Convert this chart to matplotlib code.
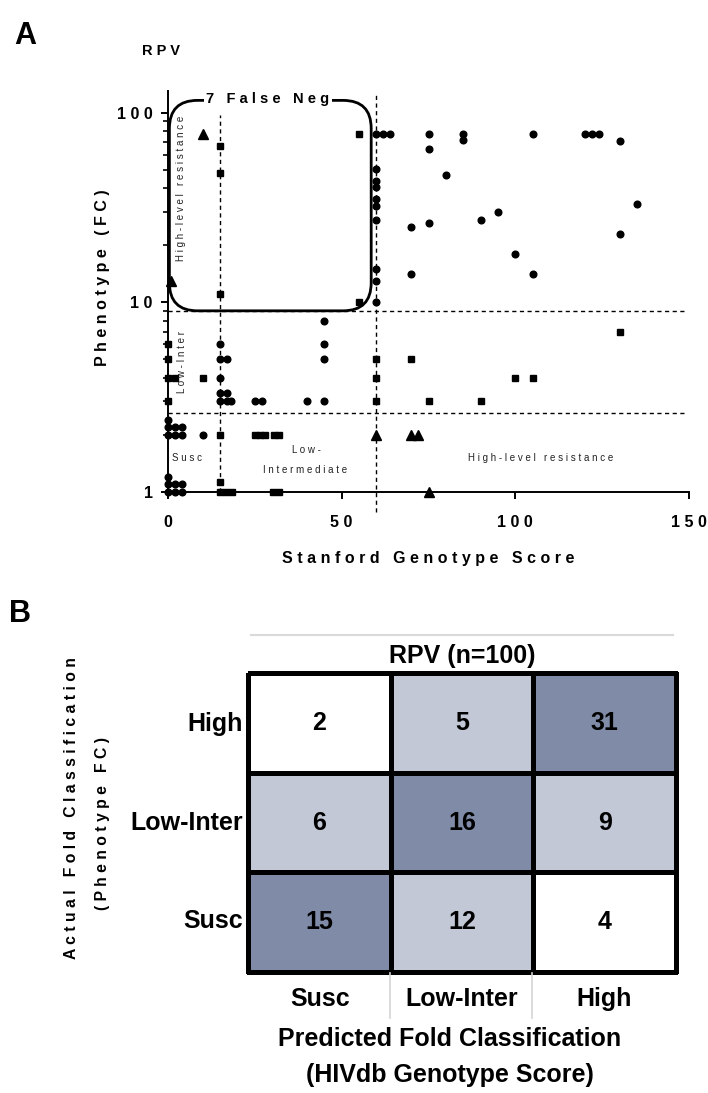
import numpy as np
import matplotlib
matplotlib.use('Agg')
import matplotlib.pyplot as plt
from matplotlib.patches import FancyBboxPatch
from matplotlib.lines import Line2D
from matplotlib.colors import ListedColormap
from matplotlib import font_manager

plt.rcParams['font.family'] = ['Liberation Sans', 'DejaVu Sans']

# ---- panel A data (Stanford score vs phenotype fold change) ----
# circles: genotype and phenotype agree
circle_x = [60, 62, 64, 75, 85, 105, 120, 122, 124,
            85, 130, 75, 80, 135, 95, 90, 70, 75, 130, 100, 70, 105,
            60, 60, 60, 60, 60, 60, 60, 60, 60,
            45, 45, 45, 45, 40, 25, 27, 15, 15, 17, 15, 15, 17, 15, 17, 18,
            0, 0, 2, 4, 0, 2, 4, 10, 0, 0, 2, 4, 0, 2, 4]
circle_y = [77, 77, 77, 77, 77, 77, 77, 77, 77,
            72, 71, 64, 47, 33, 30, 27, 25, 26, 23, 18, 14, 14,
            50.6, 43.5, 40.6, 34.8, 32.1, 27, 15, 13, 10,
            8, 6, 5, 3, 3, 3, 3, 6, 5, 5, 4, 3.3, 3.3, 3, 3, 3,
            2.4, 2.2, 2.2, 2.2, 2, 2, 2, 2, 1.2, 1.1, 1.1, 1.1, 1, 1, 1]
# squares: one category off
square_x = [15, 15, 15, 55, 55,
            60, 60, 60, 70, 100, 105, 75, 90, 130,
            0, 0, 0, 2, 10, 0,
            15, 25, 26.5, 28, 30.5, 32, 15, 15, 16.6, 18.5, 30.3, 32]
square_y = [67, 48, 11, 77, 10,
            5, 4, 3, 5, 4, 4, 3, 3, 7,
            6, 5, 4, 4, 4, 3,
            2, 2, 2, 2, 2, 2, 1.13, 1, 1, 1, 1, 1]
# triangles: two categories off
triangle_x = [10, 1, 60, 70, 72, 75]
triangle_y = [77, 13, 2, 2, 2, 1]

geno_cuts = [15, 60]
pheno_cuts = [2.6, 9]

# ---- panel B data ----
row_labels = ['High', 'Low-Inter', 'Susc']
col_labels = ['Susc', 'Low-Inter', 'High']
counts = [[2, 5, 31],
          [6, 16, 9],
          [15, 12, 4]]

W, H = 708, 1093
fig = plt.figure(figsize=(W / 100, H / 100), dpi=100)


def fx(x):
    return x / W


def fy(y):
    return 1 - y / H


def spaced(s):
    return ' '.join(s)


# ================= panel A =================
ax = fig.add_axes([fx(168), fy(491.7), 521 / W, 400.7 / H])
ax.set_yscale('log')
ax.set_xlim(0, 150)
ax.set_ylim(1, 130)

ax.plot(circle_x, circle_y, 'o', ms=4.8, color='black', ls='none', clip_on=False, zorder=3)
ax.plot(square_x, square_y, 's', ms=4.4, color='black', ls='none', clip_on=False, zorder=3)
ax.plot(triangle_x, triangle_y, '^', ms=7, color='black', ls='none', clip_on=False, zorder=3)

dash = dict(color='black', lw=1.0, dashes=(3, 2.5), zorder=2)
for c in pheno_cuts:
    ax.axhline(c, xmin=0, xmax=149.5 / 150, **dash)
ax.axvline(geno_cuts[0], ymin=0, ymax=0.94, **dash)
ax.axvline(geno_cuts[1], ymin=-0.05, ymax=0.99, clip_on=False, **dash)

for s in ['top', 'right']:
    ax.spines[s].set_visible(False)
for s in ['left', 'bottom']:
    ax.spines[s].set_linewidth(1.4)

ax.set_xticks([0, 50, 100, 150])
ax.set_xticklabels(['0', '5 0', '1 0 0', '1 5 0'])
ax.set_yticks([1, 10, 100])
ax.set_yticklabels(['1', '1 0', '1 0 0'])
ax.set_yticks([2, 3, 4, 5, 6, 7, 8, 9, 20, 30, 40, 50, 60, 70, 80, 90], minor=True)
ax.yaxis.set_minor_formatter(plt.NullFormatter())
ax.tick_params(axis='both', which='major', direction='out', length=5, width=1.4,
               labelsize=11.5)
ax.tick_params(axis='x', which='major', pad=12)
ax.tick_params(axis='y', which='major', pad=6)
ax.tick_params(axis='y', which='minor', direction='out', length=3.5, width=1.2)
for lab in ax.get_xticklabels() + ax.get_yticklabels():
    lab.set_fontweight('bold')

# rounded "false negative" box
corners = ax.transAxes.inverted().transform(ax.transData.transform([(0.4, 9), (58.5, 116)]))
(bx0, by0), (bx1, by1) = corners
box = FancyBboxPatch((bx0, by0), bx1 - bx0, by1 - by0,
                     boxstyle='round,pad=0,rounding_size=0.054', mutation_aspect=521 / 400.7,
                     transform=ax.transAxes, fill=False, lw=2.0, ec='black',
                     clip_on=False, zorder=4)
ax.add_patch(box)

fig.text(fx(268), fy(98.5), spaced('7 False Neg'), ha='center', va='center',
         fontsize=10.5, fontweight='bold', zorder=6,
         bbox=dict(fc='white', ec='none', pad=1.5))

small = dict(fontsize=7, color='#222222', ha='center', va='center')
fig.text(fx(180.7), fy(188), spaced('High-level resistance'), rotation=90, **small)
fig.text(fx(181.7), fy(362), spaced('Low-Inter'), rotation=90, **small)
fig.text(fx(187), fy(458), spaced('Susc'), **small)
fig.text(fx(306), fy(450), spaced('Low-'), **small)
fig.text(fx(305), fy(470), spaced('Intermediate'), **small)
fig.text(fx(541), fy(458), spaced('High-level resistance'), **small)

fig.text(fx(428), fy(559), spaced('Stanford Genotype Score'), ha='center', va='center',
         fontsize=11.5, fontweight='bold')
fig.text(fx(103), fy(278), spaced('Phenotype (FC)'), rotation=90, ha='center', va='center',
         fontsize=11.5, fontweight='bold')
fig.text(fx(161), fy(51), spaced('RPV'), ha='center', va='center',
         fontsize=10.5, fontweight='bold')
fig.text(fx(25), fy(36), 'A', ha='center', va='center', fontsize=22, fontweight='bold')

# ================= panel B =================
names = {f.name for f in font_manager.fontManager.ttflist}
if 'Liberation Sans Narrow' in names:
    bfam, lab_fs, num_fs = ['Liberation Sans Narrow', 'DejaVu Sans'], 21, 20
else:
    bfam, lab_fs, num_fs = ['Liberation Sans', 'DejaVu Sans'], 18, 18

ax2 = fig.add_axes([fx(248), fy(972), 428 / W, 299 / H])
n = len(row_labels)
level_gap = np.array([[abs((n - 1 - r) - c) for c in range(n)] for r in range(n)])
cmap = ListedColormap(['#7f8ba7', '#c2c8d6', '#ffffff'])
mesh = ax2.pcolormesh(level_gap, cmap=cmap, vmin=0, vmax=2,
                      edgecolors='black', linewidth=2.4)
mesh.set_clip_on(False)
ax2.set_xlim(0, n)
ax2.set_ylim(n, 0)
ax2.axis('off')
for r in range(n):
    for c in range(n):
        ax2.text(c + 0.5, r + 0.5, str(counts[r][c]), ha='center', va='center',
                 fontsize=num_fs, fontweight='bold', family=bfam)

row_y = [724, 823, 921]
for lab, y in zip(row_labels, row_y):
    fig.text(fx(243), fy(y), lab, ha='right', va='center', fontsize=lab_fs,
             fontweight='bold', family=bfam)
col_x = [320, 462, 604]
for lab, x in zip(col_labels, col_x):
    fig.text(fx(x), fy(999), lab, ha='center', va='center', fontsize=lab_fs,
             fontweight='bold', family=bfam)

fig.text(fx(462), fy(656), 'RPV (n=100)', ha='center', va='center', fontsize=lab_fs,
         fontweight='bold', family=bfam)
fig.text(fx(450), fy(1039), 'Predicted Fold Classification', ha='center', va='center',
         fontsize=lab_fs, fontweight='bold', family=bfam)
fig.text(fx(450), fy(1075), '(HIVdb Genotype Score)', ha='center', va='center',
         fontsize=lab_fs, fontweight='bold', family=bfam)

fig.text(fx(72), fy(808), spaced('Actual Fold Classification'), rotation=90,
         ha='center', va='center', fontsize=11.3, fontweight='bold')
fig.text(fx(103), fy(823), spaced('(Phenotype FC)'), rotation=90,
         ha='center', va='center', fontsize=11.3, fontweight='bold')
fig.text(fx(20), fy(614), 'B', ha='center', va='center', fontsize=22, fontweight='bold')

# light grey guide lines
fig.add_artist(Line2D([fx(251), fx(673)], [fy(635), fy(635)], color='#d9d9d9', lw=1.5))
for x in [390, 532]:
    fig.add_artist(Line2D([fx(x), fx(x)], [fy(973), fy(1018)], color='#d4d4d4', lw=1.2))

fig.savefig('out.png', dpi=100)
